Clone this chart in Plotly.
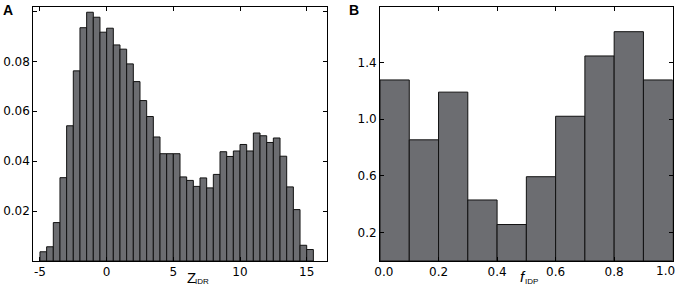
import numpy as np
import plotly.graph_objects as go
from plotly.subplots import make_subplots

# Panel A: Z_IDR histogram (density), bins of width 0.5 starting at -5
zA_first_edge = -5.0
zA_bin_width = 0.5
zA_density = [
    0.0037, 0.0057, 0.0154, 0.0334, 0.0542, 0.0762, 0.0935, 0.0997, 0.0977, 0.0917,
    0.0933, 0.0866, 0.0849, 0.0790, 0.0719, 0.0643, 0.0579, 0.0497, 0.0430, 0.0430,
    0.0430, 0.0337, 0.0323, 0.0299, 0.0333, 0.0293, 0.0347, 0.0438, 0.0419, 0.0441,
    0.0467, 0.0441, 0.0513, 0.0502, 0.0475, 0.0493, 0.0420, 0.0297, 0.0206, 0.0063,
    0.0046,
]
zA_ticks = [-5, 0, 5, 10, 15]
yA_ticks = [0.02, 0.04, 0.06, 0.08, 0.10]
yA_ticktext = ["0.02", "0.04", "0.06", "0.08", ""]

# Panel B: f_IDP histogram (density), 10 bins on [0, 1]
fB_first_edge = 0.0
fB_bin_width = 0.1
fB_density = [1.276, 0.854, 1.19, 0.43, 0.257, 0.594, 1.02, 1.445, 1.616, 1.276]
fB_ticks = [0.0, 0.2, 0.4, 0.6, 0.8, 1.0]
fB_ticktext = ["0.0", "0.2", "0.4", "0.6", "0.8", "1.0"]
yB_ticks = [0.2, 0.6, 1.0, 1.4]
yB_ticktext = ["0.2", "0.6", "1.0", "1.4"]

BAR = "#6c6d71"
NB = "&nbsp;"
# first label nudged right; last label drawn as an annotation so it stays inside the picture
fB_ticktext_shown = [NB * 2 + fB_ticktext[0]] + fB_ticktext[1:-1] + [""]

xA = zA_first_edge + zA_bin_width * (np.arange(len(zA_density)) + 0.5)
xB = fB_first_edge + fB_bin_width * (np.arange(len(fB_density)) + 0.5)

fig = make_subplots(rows=1, cols=2)
fig.add_trace(go.Bar(x=xA, y=zA_density, width=zA_bin_width, marker=dict(color=BAR, line=dict(color="#111111", width=1)), showlegend=False), 1, 1)
fig.add_trace(go.Bar(x=xB, y=fB_density, width=fB_bin_width, marker=dict(color=BAR, line=dict(color="#111111", width=1)), showlegend=False), 1, 2)

W, H = 680, 288
ml, mr, mt, mb = 33, 7, 7, 27
pw = W - ml - mr
ph = H - mt - mb

def px_x(p):
    return (p - ml) / pw

def px_y(p):
    return (H - mb - p) / ph

axis_common = dict(showline=True, linecolor="black", linewidth=1, mirror="ticks",
                   ticks="inside", ticklen=4, tickcolor="black", showgrid=False, zeroline=False,
                   automargin=False, ticklabeloverflow="allow",
                   tickfont=dict(family="DejaVu Sans", size=12, color="black"))

fig.update_xaxes(domain=[px_x(33.3), px_x(326.7)], range=[-5.5, 16.5], tickvals=zA_ticks,
                 ticktext=[str(t) for t in zA_ticks], row=1, col=1, **axis_common)
fig.update_yaxes(range=[0, 0.1018], tickvals=yA_ticks, ticktext=yA_ticktext, row=1, col=1, **axis_common)
fig.update_xaxes(domain=[px_x(380), px_x(672.7)], range=[0, 1], tickvals=fB_ticks,
                 ticktext=fB_ticktext_shown, row=1, col=2, **axis_common)
fig.update_yaxes(range=[0, 1.79], tickvals=yB_ticks, ticktext=yB_ticktext, row=1, col=2, **axis_common)

def ann(text, x, y, size, xanchor="center", yanchor="middle", family="Liberation Sans"):
    return dict(text=text, x=px_x(x), y=px_y(y), xref="paper", yref="paper",
                xanchor=xanchor, yanchor=yanchor, showarrow=False, borderpad=0,
                font=dict(family=family, size=size, color="black"))

fig.update_layout(
    width=W, height=H, margin=dict(l=ml, r=mr, t=mt, b=mb, autoexpand=False),
    paper_bgcolor="white", plot_bgcolor="white", bargap=0,
    annotations=[
        ann("<b>A</b>", 8, 10, 14),
        ann("<b>B</b>", 354, 10, 14),
        ann("Z", 197, 277, 15, xanchor="right"),
        ann("IDR", 194, 281, 8, xanchor="left"),
        ann("<i>f</i>", 527, 276, 15, xanchor="right"),
        ann("IDP", 524, 281, 8, xanchor="left"),
        ann(fB_ticktext[-1], 676, 271, 12, xanchor="right", family="DejaVu Sans"),
    ],
)

fig.write_html("out.html", config={"displayModeBar": False, "staticPlot": True},
               post_script="document.body.style.margin='0px';document.body.style.overflow='hidden';")
